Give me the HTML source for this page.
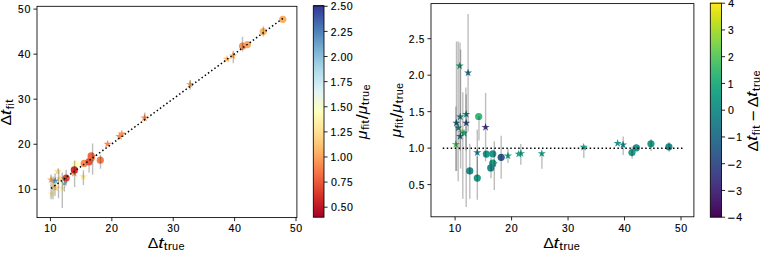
<!DOCTYPE html>
<html><head><meta charset="utf-8"><style>
html,body{margin:0;padding:0;background:#fff;}
body{width:760px;height:255px;overflow:hidden;}
svg{display:block;font-family:"Liberation Sans", sans-serif;}
</style></head><body>
<svg width="760" height="255" viewBox="0 0 760 255">
<rect width="760" height="255" fill="#fff"/>
<defs><linearGradient id="g1" x1="0" y1="1" x2="0" y2="0"><stop offset="0.0000" stop-color="#a50026"/><stop offset="0.0312" stop-color="#b50f26"/><stop offset="0.0625" stop-color="#c41e27"/><stop offset="0.0938" stop-color="#d42d27"/><stop offset="0.1250" stop-color="#de402e"/><stop offset="0.1562" stop-color="#e75337"/><stop offset="0.1875" stop-color="#f16640"/><stop offset="0.2188" stop-color="#f67a49"/><stop offset="0.2500" stop-color="#f98e52"/><stop offset="0.2812" stop-color="#fba35c"/><stop offset="0.3125" stop-color="#fdb567"/><stop offset="0.3438" stop-color="#fdc576"/><stop offset="0.3750" stop-color="#fed485"/><stop offset="0.4062" stop-color="#fee294"/><stop offset="0.4375" stop-color="#feeca2"/><stop offset="0.4688" stop-color="#fff6b1"/><stop offset="0.5000" stop-color="#feffc0"/><stop offset="0.5312" stop-color="#f5fbd2"/><stop offset="0.5625" stop-color="#ebf7e4"/><stop offset="0.5938" stop-color="#e1f3f6"/><stop offset="0.6250" stop-color="#d1ecf4"/><stop offset="0.6562" stop-color="#c1e4ef"/><stop offset="0.6875" stop-color="#b0dcea"/><stop offset="0.7188" stop-color="#9fd0e4"/><stop offset="0.7500" stop-color="#8ec2dc"/><stop offset="0.7812" stop-color="#7db4d5"/><stop offset="0.8125" stop-color="#6da4cc"/><stop offset="0.8438" stop-color="#5e93c3"/><stop offset="0.8750" stop-color="#4f81ba"/><stop offset="0.9062" stop-color="#436fb1"/><stop offset="0.9375" stop-color="#3d5ba7"/><stop offset="0.9688" stop-color="#36479e"/><stop offset="1.0000" stop-color="#313695"/></linearGradient><linearGradient id="g2" x1="0" y1="1" x2="0" y2="0"><stop offset="0.0000" stop-color="#440154"/><stop offset="0.0312" stop-color="#470d60"/><stop offset="0.0625" stop-color="#48186a"/><stop offset="0.0938" stop-color="#482374"/><stop offset="0.1250" stop-color="#472d7b"/><stop offset="0.1562" stop-color="#453781"/><stop offset="0.1875" stop-color="#424086"/><stop offset="0.2188" stop-color="#3e4989"/><stop offset="0.2500" stop-color="#3b528b"/><stop offset="0.2812" stop-color="#375b8d"/><stop offset="0.3125" stop-color="#33638d"/><stop offset="0.3438" stop-color="#2f6b8e"/><stop offset="0.3750" stop-color="#2c728e"/><stop offset="0.4062" stop-color="#297a8e"/><stop offset="0.4375" stop-color="#26828e"/><stop offset="0.4688" stop-color="#23898e"/><stop offset="0.5000" stop-color="#21918c"/><stop offset="0.5312" stop-color="#1f988b"/><stop offset="0.5625" stop-color="#1fa088"/><stop offset="0.5938" stop-color="#22a785"/><stop offset="0.6250" stop-color="#28ae80"/><stop offset="0.6562" stop-color="#32b67a"/><stop offset="0.6875" stop-color="#3fbc73"/><stop offset="0.7188" stop-color="#4ec36b"/><stop offset="0.7500" stop-color="#5ec962"/><stop offset="0.7812" stop-color="#70cf57"/><stop offset="0.8125" stop-color="#84d44b"/><stop offset="0.8438" stop-color="#98d83e"/><stop offset="0.8750" stop-color="#addc30"/><stop offset="0.9062" stop-color="#c2df23"/><stop offset="0.9375" stop-color="#d8e219"/><stop offset="0.9688" stop-color="#ece51b"/><stop offset="1.0000" stop-color="#fde725"/></linearGradient><clipPath id="cl"><rect x="37.0" y="6.3" width="259.9" height="211.3"/></clipPath><clipPath id="cr"><rect x="431.0" y="3.6" width="262.9" height="213.2"/></clipPath></defs>
<g clip-path="url(#cl)">
<path d="M55.18 176.62 L54.22 179.59 L51.09 179.59 L53.62 181.43 L52.65 184.40 L55.18 182.56 L57.71 184.40 L56.74 181.43 L59.27 179.59 L56.15 179.59 Z" fill="#679ec9"/>
<path d="M64.32 178.59 L63.35 181.56 L60.23 181.56 L62.75 183.40 L61.79 186.37 L64.32 184.54 L66.84 186.37 L65.88 183.40 L68.40 181.56 L65.28 181.56 Z" fill="#7db4d5"/>
<path d="M55.73 180.79 L54.77 183.76 L51.64 183.76 L54.17 185.60 L53.21 188.57 L55.73 186.74 L58.26 188.57 L57.30 185.60 L59.82 183.76 L56.70 183.76 Z" fill="#fffdbc"/>
<path d="M62.23 176.17 L61.27 179.14 L58.14 179.14 L60.67 180.98 L59.70 183.95 L62.23 182.11 L64.76 183.95 L63.79 180.98 L66.32 179.14 L63.20 179.14 Z" fill="#fcfec5"/>
<path d="M51.50 189.64 L50.54 192.61 L47.41 192.61 L49.94 194.45 L48.98 197.42 L51.50 195.58 L54.03 197.42 L53.07 194.45 L55.59 192.61 L52.47 192.61 Z" fill="#fff1aa"/>
<path d="M62.23 183.80 L61.27 186.77 L58.14 186.77 L60.67 188.61 L59.70 191.58 L62.23 189.74 L64.76 191.58 L63.79 188.61 L66.32 186.77 L63.20 186.77 Z" fill="#fff1aa"/>
<path d="M53.65 182.45 L52.68 185.43 L49.56 185.43 L52.09 187.26 L51.12 190.23 L53.65 188.40 L56.18 190.23 L55.21 187.26 L57.74 185.43 L54.61 185.43 Z" fill="#fee79b"/>
<path d="M57.76 167.19 L56.79 170.16 L53.67 170.16 L56.19 172.00 L55.23 174.97 L57.76 173.13 L60.28 174.97 L59.32 172.00 L61.85 170.16 L58.72 170.16 Z" fill="#fedc8c"/>
<path d="M59.90 174.15 L58.94 177.12 L55.81 177.12 L58.34 178.96 L57.37 181.93 L59.90 180.09 L62.43 181.93 L61.46 178.96 L63.99 177.12 L60.87 177.12 Z" fill="#feda8a"/>
<path d="M55.73 183.80 L54.77 186.77 L51.64 186.77 L54.17 188.61 L53.21 191.58 L55.73 189.74 L58.26 191.58 L57.30 188.61 L59.82 186.77 L56.70 186.77 Z" fill="#fece7f"/>
<path d="M50.95 175.50 L49.99 178.47 L46.86 178.47 L49.39 180.30 L48.42 183.27 L50.95 181.44 L53.48 183.27 L52.51 180.30 L55.04 178.47 L51.92 178.47 Z" fill="#fdb567"/>
<path d="M83.32 172.40 L82.35 175.37 L79.23 175.37 L81.76 177.20 L80.79 180.18 L83.32 178.34 L85.85 180.18 L84.88 177.20 L87.41 175.37 L84.28 175.37 Z" fill="#fee99d"/>
<circle cx="75.84" cy="164.22" r="3.60" fill="#fffebe"/>
<path d="M74.31 168.98 L73.34 171.96 L70.22 171.96 L72.74 173.79 L71.78 176.76 L74.31 174.93 L76.83 176.76 L75.87 173.79 L78.40 171.96 L75.27 171.96 Z" fill="#f99355"/>
<circle cx="84.18" cy="163.41" r="3.60" fill="#f98e52"/>
<circle cx="91.16" cy="158.24" r="3.60" fill="#f98e52"/>
<circle cx="100.30" cy="160.22" r="3.60" fill="#f67f4b"/>
<path d="M107.65 139.71 L106.69 142.68 L103.56 142.68 L106.09 144.52 L105.13 147.49 L107.65 145.65 L110.18 147.49 L109.22 144.52 L111.74 142.68 L108.62 142.68 Z" fill="#f8864f"/>
<circle cx="91.16" cy="155.82" r="3.60" fill="#f26841"/>
<path d="M92.27 151.92 L91.30 154.89 L88.18 154.89 L90.71 156.73 L89.74 159.70 L92.27 157.87 L94.80 159.70 L93.83 156.73 L96.36 154.89 L93.23 154.89 Z" fill="#f16640"/>
<circle cx="88.96" cy="161.88" r="3.60" fill="#e95538"/>
<circle cx="66.15" cy="178.00" r="3.60" fill="#e34933"/>
<circle cx="74.31" cy="169.92" r="3.60" fill="#d42d27"/>
<path d="M119.42 132.12 L118.46 135.09 L115.33 135.09 L117.86 136.93 L116.90 139.90 L119.42 138.06 L121.95 139.90 L120.99 136.93 L123.51 135.09 L120.39 135.09 Z" fill="#f98e52"/>
<path d="M121.81 129.61 L120.85 132.58 L117.72 132.58 L120.25 134.42 L119.29 137.39 L121.81 135.55 L124.34 137.39 L123.38 134.42 L125.90 132.58 L122.78 132.58 Z" fill="#f99153"/>
<path d="M144.50 113.58 L143.53 116.55 L140.41 116.55 L142.93 118.39 L141.97 121.36 L144.50 119.52 L147.02 121.36 L146.06 118.39 L148.59 116.55 L145.46 116.55 Z" fill="#f98e52"/>
<path d="M190.04 79.99 L189.08 82.96 L185.95 82.96 L188.48 84.80 L187.51 87.77 L190.04 85.94 L192.57 87.77 L191.60 84.80 L194.13 82.96 L191.01 82.96 Z" fill="#fcaa5f"/>
<path d="M227.01 54.80 L226.04 57.78 L222.92 57.78 L225.44 59.61 L224.48 62.58 L227.01 60.75 L229.53 62.58 L228.57 59.61 L231.09 57.78 L227.97 57.78 Z" fill="#fdb96b"/>
<path d="M232.89 51.62 L231.92 54.59 L228.80 54.59 L231.33 56.42 L230.36 59.40 L232.89 57.56 L235.42 59.40 L234.45 56.42 L236.98 54.59 L233.86 54.59 Z" fill="#fdb366"/>
<circle cx="247.36" cy="44.60" r="3.60" fill="#fca85e"/>
<circle cx="242.58" cy="46.22" r="3.60" fill="#f99355"/>
<circle cx="263.23" cy="31.49" r="3.60" fill="#fdb769"/>
<circle cx="282.79" cy="19.28" r="3.60" fill="#fdad60"/>
<line x1="263.40" y1="26.30" x2="263.40" y2="36.50" stroke="#000" stroke-opacity="0.26" stroke-width="1.4"/>
<line x1="242.50" y1="36.70" x2="242.50" y2="51.40" stroke="#000" stroke-opacity="0.26" stroke-width="1.4"/>
<line x1="233.30" y1="50.80" x2="233.30" y2="63.20" stroke="#000" stroke-opacity="0.26" stroke-width="1.4"/>
<line x1="190.20" y1="79.90" x2="190.20" y2="89.70" stroke="#000" stroke-opacity="0.26" stroke-width="1.4"/>
<line x1="144.90" y1="112.50" x2="144.90" y2="120.50" stroke="#000" stroke-opacity="0.26" stroke-width="1.4"/>
<line x1="92.60" y1="143.50" x2="92.60" y2="174.70" stroke="#000" stroke-opacity="0.26" stroke-width="1.4"/>
<line x1="100.50" y1="154.80" x2="100.50" y2="168.80" stroke="#000" stroke-opacity="0.26" stroke-width="1.4"/>
<line x1="89.10" y1="165.30" x2="89.10" y2="172.80" stroke="#000" stroke-opacity="0.26" stroke-width="1.4"/>
<line x1="83.40" y1="170.30" x2="83.40" y2="184.90" stroke="#000" stroke-opacity="0.26" stroke-width="1.4"/>
<line x1="74.60" y1="160.50" x2="74.60" y2="186.90" stroke="#000" stroke-opacity="0.26" stroke-width="1.4"/>
<line x1="66.20" y1="169.80" x2="66.20" y2="184.50" stroke="#000" stroke-opacity="0.26" stroke-width="1.4"/>
<line x1="51.10" y1="174.60" x2="51.10" y2="199.30" stroke="#000" stroke-opacity="0.26" stroke-width="1.4"/>
<line x1="53.00" y1="176.50" x2="53.00" y2="199.30" stroke="#000" stroke-opacity="0.26" stroke-width="1.4"/>
<line x1="55.00" y1="173.50" x2="55.00" y2="195.90" stroke="#000" stroke-opacity="0.26" stroke-width="1.4"/>
<line x1="58.50" y1="168.50" x2="58.50" y2="198.30" stroke="#000" stroke-opacity="0.26" stroke-width="1.4"/>
<line x1="62.30" y1="172.50" x2="62.30" y2="208.00" stroke="#000" stroke-opacity="0.26" stroke-width="1.4"/>
<line x1="64.40" y1="178.50" x2="64.40" y2="191.40" stroke="#000" stroke-opacity="0.26" stroke-width="1.4"/>
<line x1="51.045" y1="188.444" x2="282.855" y2="18.386" stroke="#000" stroke-width="1.5" stroke-dasharray="1.5 2.472"/>
</g>
<g clip-path="url(#cr)">
<path d="M459.70 61.63 L458.73 64.60 L455.61 64.60 L458.13 66.43 L457.17 69.41 L459.70 67.57 L462.22 69.41 L461.26 66.43 L463.78 64.60 L460.66 64.60 Z" fill="#28ae80"/>
<path d="M468.09 68.48 L467.13 71.46 L464.00 71.46 L466.53 73.29 L465.56 76.26 L468.09 74.43 L470.62 76.26 L469.65 73.29 L472.18 71.46 L469.06 71.46 Z" fill="#2b748e"/>
<path d="M460.20 112.47 L459.24 115.44 L456.11 115.44 L458.64 117.28 L457.67 120.25 L460.20 118.42 L462.73 120.25 L461.76 117.28 L464.29 115.44 L461.17 115.44 Z" fill="#21918c"/>
<path d="M466.18 109.99 L465.21 112.96 L462.09 112.96 L464.61 114.80 L463.65 117.77 L466.18 115.94 L468.70 117.77 L467.74 114.80 L470.27 112.96 L467.14 112.96 Z" fill="#21908d"/>
<path d="M456.31 118.67 L455.35 121.64 L452.22 121.64 L454.75 123.48 L453.79 126.45 L456.31 124.62 L458.84 126.45 L457.88 123.48 L460.40 121.64 L457.28 121.64 Z" fill="#306a8e"/>
<path d="M466.18 118.67 L465.21 121.64 L462.09 121.64 L464.61 123.48 L463.65 126.45 L466.18 124.62 L468.70 126.45 L467.74 123.48 L470.27 121.64 L467.14 121.64 Z" fill="#375b8d"/>
<path d="M458.29 123.56 L457.32 126.53 L454.20 126.53 L456.72 128.37 L455.76 131.34 L458.29 129.50 L460.81 131.34 L459.85 128.37 L462.38 126.53 L459.25 126.53 Z" fill="#21908d"/>
<path d="M462.06 128.01 L461.10 130.98 L457.97 130.98 L460.50 132.82 L459.53 135.79 L462.06 133.95 L464.59 135.79 L463.62 132.82 L466.15 130.98 L463.03 130.98 Z" fill="#93d741"/>
<path d="M464.03 128.81 L463.07 131.78 L459.94 131.78 L462.47 133.62 L461.51 136.59 L464.03 134.76 L466.56 136.59 L465.60 133.62 L468.12 131.78 L465.00 131.78 Z" fill="#22a884"/>
<path d="M460.20 132.02 L459.24 134.99 L456.11 134.99 L458.64 136.83 L457.67 139.80 L460.20 137.97 L462.73 139.80 L461.76 136.83 L464.29 134.99 L461.17 134.99 Z" fill="#287c8e"/>
<path d="M455.81 140.12 L454.84 143.09 L451.72 143.09 L454.25 144.93 L453.28 147.90 L455.81 146.06 L458.33 147.90 L457.37 144.93 L459.90 143.09 L456.77 143.09 Z" fill="#5ac864"/>
<path d="M485.56 122.90 L484.59 125.88 L481.47 125.88 L484.00 127.71 L483.03 130.68 L485.56 128.85 L488.09 130.68 L487.12 127.71 L489.65 125.88 L486.53 125.88 Z" fill="#443a83"/>
<circle cx="478.69" cy="116.48" r="3.60" fill="#37b878"/>
<path d="M477.28 148.22 L476.31 151.19 L473.19 151.19 L475.71 153.03 L474.75 156.00 L477.28 154.16 L479.80 156.00 L478.84 153.03 L481.37 151.19 L478.24 151.19 Z" fill="#25848e"/>
<circle cx="486.35" cy="154.12" r="3.60" fill="#1f968b"/>
<circle cx="492.77" cy="153.83" r="3.60" fill="#1f968b"/>
<circle cx="501.17" cy="157.33" r="3.60" fill="#375b8d"/>
<path d="M507.93 151.50 L506.97 154.47 L503.84 154.47 L506.37 156.31 L505.40 159.28 L507.93 157.44 L510.46 159.28 L509.49 156.31 L512.02 154.47 L508.90 154.47 Z" fill="#20a486"/>
<circle cx="492.77" cy="163.17" r="3.60" fill="#21a685"/>
<path d="M493.79 159.23 L492.82 162.21 L489.70 162.21 L492.22 164.04 L491.26 167.01 L493.79 165.18 L496.31 167.01 L495.35 164.04 L497.88 162.21 L494.75 162.21 Z" fill="#1f9f88"/>
<circle cx="490.74" cy="167.91" r="3.60" fill="#23898e"/>
<circle cx="469.78" cy="170.90" r="3.60" fill="#228d8d"/>
<circle cx="477.28" cy="178.12" r="3.60" fill="#1e9b8a"/>
<path d="M518.75 149.68 L517.78 152.65 L514.66 152.65 L517.19 154.48 L516.22 157.46 L518.75 155.62 L521.28 157.46 L520.31 154.48 L522.84 152.65 L519.72 152.65 Z" fill="#1f9e89"/>
<path d="M520.95 149.17 L519.98 152.14 L516.86 152.14 L519.39 153.97 L518.42 156.95 L520.95 155.11 L523.48 156.95 L522.51 153.97 L525.04 152.14 L521.91 152.14 Z" fill="#1fa287"/>
<path d="M541.80 149.31 L540.83 152.28 L537.71 152.28 L540.24 154.12 L539.27 157.09 L541.80 155.26 L544.32 157.09 L543.36 154.12 L545.89 152.28 L542.76 152.28 Z" fill="#1f9f88"/>
<path d="M583.67 142.89 L582.70 145.86 L579.58 145.86 L582.10 147.70 L581.14 150.67 L583.67 148.84 L586.19 150.67 L585.23 147.70 L587.75 145.86 L584.63 145.86 Z" fill="#1fa188"/>
<path d="M617.64 139.03 L616.68 142.00 L613.55 142.00 L616.08 143.83 L615.12 146.81 L617.64 144.97 L620.17 146.81 L619.21 143.83 L621.73 142.00 L618.61 142.00 Z" fill="#20938c"/>
<path d="M623.05 140.49 L622.09 143.46 L618.96 143.46 L621.49 145.29 L620.53 148.26 L623.05 146.43 L625.58 148.26 L624.62 145.29 L627.14 143.46 L624.02 143.46 Z" fill="#228c8d"/>
<circle cx="636.35" cy="147.78" r="3.60" fill="#21918c"/>
<circle cx="631.96" cy="152.59" r="3.60" fill="#1f9e89"/>
<circle cx="650.95" cy="143.84" r="3.60" fill="#1e9b8a"/>
<circle cx="668.92" cy="146.83" r="3.60" fill="#228d8d"/>
<line x1="468.10" y1="13.90" x2="468.10" y2="131.50" stroke="#000" stroke-opacity="0.26" stroke-width="1.4"/>
<line x1="456.50" y1="41.50" x2="456.50" y2="170.90" stroke="#000" stroke-opacity="0.26" stroke-width="1.4"/>
<line x1="458.20" y1="41.50" x2="458.20" y2="181.20" stroke="#000" stroke-opacity="0.26" stroke-width="1.4"/>
<line x1="460.00" y1="42.50" x2="460.00" y2="150.50" stroke="#000" stroke-opacity="0.26" stroke-width="1.4"/>
<line x1="460.60" y1="49.40" x2="460.60" y2="168.40" stroke="#000" stroke-opacity="0.26" stroke-width="1.4"/>
<line x1="462.80" y1="92.30" x2="462.80" y2="198.80" stroke="#000" stroke-opacity="0.26" stroke-width="1.4"/>
<line x1="465.90" y1="87.40" x2="465.90" y2="150.50" stroke="#000" stroke-opacity="0.26" stroke-width="1.4"/>
<line x1="466.20" y1="94.30" x2="466.20" y2="207.10" stroke="#000" stroke-opacity="0.26" stroke-width="1.4"/>
<line x1="455.80" y1="106.40" x2="455.80" y2="170.90" stroke="#000" stroke-opacity="0.26" stroke-width="1.4"/>
<line x1="485.60" y1="93.10" x2="485.60" y2="161.20" stroke="#000" stroke-opacity="0.26" stroke-width="1.4"/>
<line x1="479.00" y1="116.50" x2="479.00" y2="140.50" stroke="#000" stroke-opacity="0.26" stroke-width="1.4"/>
<line x1="477.30" y1="129.40" x2="477.30" y2="175.60" stroke="#000" stroke-opacity="0.26" stroke-width="1.4"/>
<line x1="477.30" y1="156.50" x2="477.30" y2="199.70" stroke="#000" stroke-opacity="0.26" stroke-width="1.4"/>
<line x1="469.80" y1="143.70" x2="469.80" y2="198.80" stroke="#000" stroke-opacity="0.26" stroke-width="1.4"/>
<line x1="494.30" y1="141.20" x2="494.30" y2="189.90" stroke="#000" stroke-opacity="0.26" stroke-width="1.4"/>
<line x1="491.00" y1="157.50" x2="491.00" y2="178.30" stroke="#000" stroke-opacity="0.26" stroke-width="1.4"/>
<line x1="501.20" y1="135.80" x2="501.20" y2="178.80" stroke="#000" stroke-opacity="0.26" stroke-width="1.4"/>
<line x1="508.00" y1="148.50" x2="508.00" y2="163.00" stroke="#000" stroke-opacity="0.26" stroke-width="1.4"/>
<line x1="520.80" y1="143.90" x2="520.80" y2="164.70" stroke="#000" stroke-opacity="0.26" stroke-width="1.4"/>
<line x1="541.90" y1="153.60" x2="541.90" y2="168.70" stroke="#000" stroke-opacity="0.26" stroke-width="1.4"/>
<line x1="583.80" y1="147.20" x2="583.80" y2="157.90" stroke="#000" stroke-opacity="0.26" stroke-width="1.4"/>
<line x1="623.20" y1="136.40" x2="623.20" y2="154.90" stroke="#000" stroke-opacity="0.26" stroke-width="1.4"/>
<line x1="632.10" y1="146.40" x2="632.10" y2="158.80" stroke="#000" stroke-opacity="0.26" stroke-width="1.4"/>
<line x1="651.10" y1="138.90" x2="651.10" y2="150.90" stroke="#000" stroke-opacity="0.26" stroke-width="1.4"/>
<line x1="669.10" y1="141.90" x2="669.10" y2="151.70" stroke="#000" stroke-opacity="0.26" stroke-width="1.4"/>
<line x1="442.750" y1="148.2" x2="682.450" y2="148.2" stroke="#000" stroke-width="1.5" stroke-dasharray="1.5 2.470"/>
</g>
<rect x="37.00" y="6.30" width="259.90" height="211.30" stroke="#000" stroke-width="0.85" fill="none"/>
<rect x="431.00" y="3.60" width="262.90" height="213.20" stroke="#000" stroke-width="0.85" fill="none"/>
<line x1="50.45" y1="217.60" x2="50.45" y2="221.20" stroke="#000" stroke-width="0.85"/>
<text transform="matrix(1.0169 0 0 1.0702 44.140 231.500)" font-size="10" stroke="#000" stroke-width="0.144">1</text><text transform="matrix(1.0647 0 0 1.0790 50.480 231.538)" font-size="10" stroke="#000" stroke-width="0.140">0</text>
<line x1="33.40" y1="189.30" x2="37.00" y2="189.30" stroke="#000" stroke-width="0.85"/>
<text transform="matrix(1.0169 0 0 1.0702 18.054 193.400)" font-size="10" stroke="#000" stroke-width="0.144">1</text><text transform="matrix(1.0647 0 0 1.0790 24.395 193.438)" font-size="10" stroke="#000" stroke-width="0.140">0</text>
<line x1="111.84" y1="217.60" x2="111.84" y2="221.20" stroke="#000" stroke-width="0.85"/>
<text transform="matrix(1.0262 0 0 1.0736 105.603 231.500)" font-size="10" stroke="#000" stroke-width="0.143">2</text><text transform="matrix(1.0647 0 0 1.0790 112.055 231.538)" font-size="10" stroke="#000" stroke-width="0.140">0</text>
<line x1="33.40" y1="144.25" x2="37.00" y2="144.25" stroke="#000" stroke-width="0.85"/>
<text transform="matrix(1.0262 0 0 1.0736 17.942 148.350)" font-size="10" stroke="#000" stroke-width="0.143">2</text><text transform="matrix(1.0647 0 0 1.0790 24.395 148.388)" font-size="10" stroke="#000" stroke-width="0.140">0</text>
<line x1="173.23" y1="217.60" x2="173.23" y2="221.20" stroke="#000" stroke-width="0.85"/>
<text transform="matrix(1.0225 0 0 1.0790 167.135 231.538)" font-size="10" stroke="#000" stroke-width="0.143">3</text><text transform="matrix(1.0647 0 0 1.0790 173.431 231.538)" font-size="10" stroke="#000" stroke-width="0.140">0</text>
<line x1="33.40" y1="99.20" x2="37.00" y2="99.20" stroke="#000" stroke-width="0.85"/>
<text transform="matrix(1.0225 0 0 1.0790 18.099 103.338)" font-size="10" stroke="#000" stroke-width="0.143">3</text><text transform="matrix(1.0647 0 0 1.0790 24.395 103.338)" font-size="10" stroke="#000" stroke-width="0.140">0</text>
<line x1="234.62" y1="217.60" x2="234.62" y2="221.20" stroke="#000" stroke-width="0.85"/>
<text transform="matrix(1.0648 0 0 1.0702 228.532 231.500)" font-size="10" stroke="#000" stroke-width="0.141">4</text><text transform="matrix(1.0647 0 0 1.0790 234.959 231.538)" font-size="10" stroke="#000" stroke-width="0.140">0</text>
<line x1="33.40" y1="54.15" x2="37.00" y2="54.15" stroke="#000" stroke-width="0.85"/>
<text transform="matrix(1.0648 0 0 1.0702 17.968 58.250)" font-size="10" stroke="#000" stroke-width="0.141">4</text><text transform="matrix(1.0647 0 0 1.0790 24.395 58.288)" font-size="10" stroke="#000" stroke-width="0.140">0</text>
<line x1="296.01" y1="217.60" x2="296.01" y2="221.20" stroke="#000" stroke-width="0.85"/>
<text transform="matrix(1.0048 0 0 1.0757 289.907 231.538)" font-size="10" stroke="#000" stroke-width="0.144">5</text><text transform="matrix(1.0647 0 0 1.0790 296.206 231.538)" font-size="10" stroke="#000" stroke-width="0.140">0</text>
<line x1="33.40" y1="9.10" x2="37.00" y2="9.10" stroke="#000" stroke-width="0.85"/>
<text transform="matrix(1.0048 0 0 1.0757 18.096 13.238)" font-size="10" stroke="#000" stroke-width="0.144">5</text><text transform="matrix(1.0647 0 0 1.0790 24.395 13.238)" font-size="10" stroke="#000" stroke-width="0.140">0</text>
<line x1="455.10" y1="216.80" x2="455.10" y2="220.40" stroke="#000" stroke-width="0.85"/>
<text transform="matrix(1.0169 0 0 1.0702 448.790 231.500)" font-size="10" stroke="#000" stroke-width="0.144">1</text><text transform="matrix(1.0647 0 0 1.0790 455.130 231.538)" font-size="10" stroke="#000" stroke-width="0.140">0</text>
<line x1="511.58" y1="216.80" x2="511.58" y2="220.40" stroke="#000" stroke-width="0.85"/>
<text transform="matrix(1.0262 0 0 1.0736 505.338 231.500)" font-size="10" stroke="#000" stroke-width="0.143">2</text><text transform="matrix(1.0647 0 0 1.0790 511.790 231.538)" font-size="10" stroke="#000" stroke-width="0.140">0</text>
<line x1="568.05" y1="216.80" x2="568.05" y2="220.40" stroke="#000" stroke-width="0.85"/>
<text transform="matrix(1.0225 0 0 1.0790 561.955 231.538)" font-size="10" stroke="#000" stroke-width="0.143">3</text><text transform="matrix(1.0647 0 0 1.0790 568.251 231.538)" font-size="10" stroke="#000" stroke-width="0.140">0</text>
<line x1="624.53" y1="216.80" x2="624.53" y2="220.40" stroke="#000" stroke-width="0.85"/>
<text transform="matrix(1.0648 0 0 1.0702 618.437 231.500)" font-size="10" stroke="#000" stroke-width="0.141">4</text><text transform="matrix(1.0647 0 0 1.0790 624.864 231.538)" font-size="10" stroke="#000" stroke-width="0.140">0</text>
<line x1="681.00" y1="216.80" x2="681.00" y2="220.40" stroke="#000" stroke-width="0.85"/>
<text transform="matrix(1.0048 0 0 1.0757 674.897 231.538)" font-size="10" stroke="#000" stroke-width="0.144">5</text><text transform="matrix(1.0647 0 0 1.0790 681.196 231.538)" font-size="10" stroke="#000" stroke-width="0.140">0</text>
<line x1="427.40" y1="184.60" x2="431.00" y2="184.60" stroke="#000" stroke-width="0.85"/>
<text transform="matrix(1.0647 0 0 1.0790 408.870 188.738)" font-size="10" stroke="#000" stroke-width="0.140">0</text><text transform="matrix(1.0929 0 0 1.1714 415.128 188.700)" font-size="10" stroke="#000" stroke-width="0.132">.</text><text transform="matrix(1.0048 0 0 1.0757 418.634 188.738)" font-size="10" stroke="#000" stroke-width="0.144">5</text>
<line x1="427.40" y1="148.12" x2="431.00" y2="148.12" stroke="#000" stroke-width="0.85"/>
<text transform="matrix(1.0169 0 0 1.0702 408.743 152.225)" font-size="10" stroke="#000" stroke-width="0.144">1</text><text transform="matrix(1.0929 0 0 1.1714 414.916 152.225)" font-size="10" stroke="#000" stroke-width="0.132">.</text><text transform="matrix(1.0647 0 0 1.0790 418.295 152.263)" font-size="10" stroke="#000" stroke-width="0.140">0</text>
<line x1="427.40" y1="111.65" x2="431.00" y2="111.65" stroke="#000" stroke-width="0.85"/>
<text transform="matrix(1.0169 0 0 1.0702 408.955 115.750)" font-size="10" stroke="#000" stroke-width="0.144">1</text><text transform="matrix(1.0929 0 0 1.1714 415.128 115.750)" font-size="10" stroke="#000" stroke-width="0.132">.</text><text transform="matrix(1.0048 0 0 1.0757 418.634 115.788)" font-size="10" stroke="#000" stroke-width="0.144">5</text>
<line x1="427.40" y1="75.18" x2="431.00" y2="75.18" stroke="#000" stroke-width="0.85"/>
<text transform="matrix(1.0262 0 0 1.0736 408.632 79.275)" font-size="10" stroke="#000" stroke-width="0.143">2</text><text transform="matrix(1.0929 0 0 1.1714 414.916 79.275)" font-size="10" stroke="#000" stroke-width="0.132">.</text><text transform="matrix(1.0647 0 0 1.0790 418.295 79.313)" font-size="10" stroke="#000" stroke-width="0.140">0</text>
<line x1="427.40" y1="38.70" x2="431.00" y2="38.70" stroke="#000" stroke-width="0.85"/>
<text transform="matrix(1.0262 0 0 1.0736 408.844 42.800)" font-size="10" stroke="#000" stroke-width="0.143">2</text><text transform="matrix(1.0929 0 0 1.1714 415.128 42.800)" font-size="10" stroke="#000" stroke-width="0.132">.</text><text transform="matrix(1.0048 0 0 1.0757 418.634 42.838)" font-size="10" stroke="#000" stroke-width="0.144">5</text>
<rect x="313.30" y="5.00" width="10.70" height="212.20" fill="url(#g1)"/>
<rect x="313.30" y="5.90" width="10.70" height="211.30" stroke="#000" stroke-width="0.85" fill="none"/>
<line x1="324.00" y1="207.20" x2="327.60" y2="207.20" stroke="#000" stroke-width="0.85"/>
<text transform="matrix(1.0647 0 0 1.0790 330.884 211.338)" font-size="10" stroke="#000" stroke-width="0.140">0</text><text transform="matrix(1.0929 0 0 1.1714 337.142 211.300)" font-size="10" stroke="#000" stroke-width="0.132">.</text><text transform="matrix(1.0048 0 0 1.0757 340.648 211.338)" font-size="10" stroke="#000" stroke-width="0.144">5</text><text transform="matrix(1.0647 0 0 1.0790 346.946 211.338)" font-size="10" stroke="#000" stroke-width="0.140">0</text>
<line x1="324.00" y1="182.09" x2="327.60" y2="182.09" stroke="#000" stroke-width="0.85"/>
<text transform="matrix(1.0647 0 0 1.0790 330.884 186.225)" font-size="10" stroke="#000" stroke-width="0.140">0</text><text transform="matrix(1.0929 0 0 1.1714 337.142 186.188)" font-size="10" stroke="#000" stroke-width="0.132">.</text><text transform="matrix(1.0415 0 0 1.0702 340.565 186.188)" font-size="10" stroke="#000" stroke-width="0.142">7</text><text transform="matrix(1.0048 0 0 1.0757 347.073 186.225)" font-size="10" stroke="#000" stroke-width="0.144">5</text>
<line x1="324.00" y1="156.98" x2="327.60" y2="156.98" stroke="#000" stroke-width="0.85"/>
<text transform="matrix(1.0169 0 0 1.0702 330.525 161.075)" font-size="10" stroke="#000" stroke-width="0.144">1</text><text transform="matrix(1.0929 0 0 1.1714 336.698 161.075)" font-size="10" stroke="#000" stroke-width="0.132">.</text><text transform="matrix(1.0647 0 0 1.0790 340.077 161.113)" font-size="10" stroke="#000" stroke-width="0.140">0</text><text transform="matrix(1.0647 0 0 1.0790 346.503 161.113)" font-size="10" stroke="#000" stroke-width="0.140">0</text>
<line x1="324.00" y1="131.86" x2="327.60" y2="131.86" stroke="#000" stroke-width="0.85"/>
<text transform="matrix(1.0169 0 0 1.0702 330.525 135.963)" font-size="10" stroke="#000" stroke-width="0.144">1</text><text transform="matrix(1.0929 0 0 1.1714 336.698 135.963)" font-size="10" stroke="#000" stroke-width="0.132">.</text><text transform="matrix(1.0262 0 0 1.0736 340.050 135.963)" font-size="10" stroke="#000" stroke-width="0.143">2</text><text transform="matrix(1.0048 0 0 1.0757 346.630 136.000)" font-size="10" stroke="#000" stroke-width="0.144">5</text>
<line x1="324.00" y1="106.75" x2="327.60" y2="106.75" stroke="#000" stroke-width="0.85"/>
<text transform="matrix(1.0169 0 0 1.0702 330.525 110.850)" font-size="10" stroke="#000" stroke-width="0.144">1</text><text transform="matrix(1.0929 0 0 1.1714 336.698 110.850)" font-size="10" stroke="#000" stroke-width="0.132">.</text><text transform="matrix(1.0048 0 0 1.0757 340.204 110.888)" font-size="10" stroke="#000" stroke-width="0.144">5</text><text transform="matrix(1.0647 0 0 1.0790 346.503 110.888)" font-size="10" stroke="#000" stroke-width="0.140">0</text>
<line x1="324.00" y1="81.64" x2="327.60" y2="81.64" stroke="#000" stroke-width="0.85"/>
<text transform="matrix(1.0169 0 0 1.0702 330.525 85.737)" font-size="10" stroke="#000" stroke-width="0.144">1</text><text transform="matrix(1.0929 0 0 1.1714 336.698 85.737)" font-size="10" stroke="#000" stroke-width="0.132">.</text><text transform="matrix(1.0415 0 0 1.0702 340.121 85.737)" font-size="10" stroke="#000" stroke-width="0.142">7</text><text transform="matrix(1.0048 0 0 1.0757 346.630 85.775)" font-size="10" stroke="#000" stroke-width="0.144">5</text>
<line x1="324.00" y1="56.52" x2="327.60" y2="56.52" stroke="#000" stroke-width="0.85"/>
<text transform="matrix(1.0262 0 0 1.0736 330.784 60.625)" font-size="10" stroke="#000" stroke-width="0.143">2</text><text transform="matrix(1.0929 0 0 1.1714 337.068 60.625)" font-size="10" stroke="#000" stroke-width="0.132">.</text><text transform="matrix(1.0647 0 0 1.0790 340.447 60.663)" font-size="10" stroke="#000" stroke-width="0.140">0</text><text transform="matrix(1.0647 0 0 1.0790 346.872 60.663)" font-size="10" stroke="#000" stroke-width="0.140">0</text>
<line x1="324.00" y1="31.41" x2="327.60" y2="31.41" stroke="#000" stroke-width="0.85"/>
<text transform="matrix(1.0262 0 0 1.0736 330.784 35.513)" font-size="10" stroke="#000" stroke-width="0.143">2</text><text transform="matrix(1.0929 0 0 1.1714 337.068 35.513)" font-size="10" stroke="#000" stroke-width="0.132">.</text><text transform="matrix(1.0262 0 0 1.0736 340.420 35.513)" font-size="10" stroke="#000" stroke-width="0.143">2</text><text transform="matrix(1.0048 0 0 1.0757 346.999 35.550)" font-size="10" stroke="#000" stroke-width="0.144">5</text>
<line x1="324.00" y1="6.30" x2="327.60" y2="6.30" stroke="#000" stroke-width="0.85"/>
<text transform="matrix(1.0262 0 0 1.0736 330.784 10.400)" font-size="10" stroke="#000" stroke-width="0.143">2</text><text transform="matrix(1.0929 0 0 1.1714 337.068 10.400)" font-size="10" stroke="#000" stroke-width="0.132">.</text><text transform="matrix(1.0048 0 0 1.0757 340.574 10.438)" font-size="10" stroke="#000" stroke-width="0.144">5</text><text transform="matrix(1.0647 0 0 1.0790 346.872 10.438)" font-size="10" stroke="#000" stroke-width="0.140">0</text>
<rect x="710.30" y="2.30" width="11.20" height="214.90" fill="url(#g2)"/>
<rect x="710.30" y="3.20" width="11.20" height="214.00" stroke="#000" stroke-width="0.85" fill="none"/>
<line x1="721.50" y1="217.20" x2="725.10" y2="217.20" stroke="#000" stroke-width="0.85"/>
<text transform="matrix(1.3013 0 0 1.1760 727.858 222.044)" font-size="10" stroke="#000" stroke-width="0.121">−</text><text transform="matrix(1.0648 0 0 1.0702 736.141 221.300)" font-size="10" stroke="#000" stroke-width="0.141">4</text>
<line x1="721.50" y1="190.45" x2="725.10" y2="190.45" stroke="#000" stroke-width="0.85"/>
<text transform="matrix(1.3013 0 0 1.1760 727.858 195.294)" font-size="10" stroke="#000" stroke-width="0.121">−</text><text transform="matrix(1.0225 0 0 1.0790 736.272 194.588)" font-size="10" stroke="#000" stroke-width="0.143">3</text>
<line x1="721.50" y1="163.70" x2="725.10" y2="163.70" stroke="#000" stroke-width="0.85"/>
<text transform="matrix(1.3013 0 0 1.1760 727.858 168.544)" font-size="10" stroke="#000" stroke-width="0.121">−</text><text transform="matrix(1.0262 0 0 1.0736 736.116 167.800)" font-size="10" stroke="#000" stroke-width="0.143">2</text>
<line x1="721.50" y1="136.95" x2="725.10" y2="136.95" stroke="#000" stroke-width="0.85"/>
<text transform="matrix(1.3013 0 0 1.1760 727.858 141.794)" font-size="10" stroke="#000" stroke-width="0.121">−</text><text transform="matrix(1.0169 0 0 1.0702 736.228 141.050)" font-size="10" stroke="#000" stroke-width="0.144">1</text>
<line x1="721.50" y1="110.20" x2="725.10" y2="110.20" stroke="#000" stroke-width="0.85"/>
<text transform="matrix(1.0647 0 0 1.0790 728.084 114.338)" font-size="10" stroke="#000" stroke-width="0.140">0</text>
<line x1="721.50" y1="83.45" x2="725.10" y2="83.45" stroke="#000" stroke-width="0.85"/>
<text transform="matrix(1.0169 0 0 1.0702 727.725 87.550)" font-size="10" stroke="#000" stroke-width="0.144">1</text>
<line x1="721.50" y1="56.70" x2="725.10" y2="56.70" stroke="#000" stroke-width="0.85"/>
<text transform="matrix(1.0262 0 0 1.0736 727.984 60.800)" font-size="10" stroke="#000" stroke-width="0.143">2</text>
<line x1="721.50" y1="29.95" x2="725.10" y2="29.95" stroke="#000" stroke-width="0.85"/>
<text transform="matrix(1.0225 0 0 1.0790 728.111 34.088)" font-size="10" stroke="#000" stroke-width="0.143">3</text>
<line x1="721.50" y1="3.20" x2="725.10" y2="3.20" stroke="#000" stroke-width="0.85"/>
<text transform="matrix(1.0648 0 0 1.0702 728.256 7.300)" font-size="10" stroke="#000" stroke-width="0.141">4</text>
<text transform="matrix(1.5933 0 0 1.5364 147.825 247.800)" font-size="10">Δ</text><text transform="matrix(1.9484 0 0 1.5514 158.149 247.648)" font-size="10" font-style="italic">t</text><text transform="matrix(1.3566 0 0 1.0892 163.858 250.176)" font-size="10">t</text><text transform="matrix(1.3005 0 0 1.0564 167.829 250.261)" font-size="10">r</text><text transform="matrix(1.0943 0 0 1.0832 172.096 250.299)" font-size="10">u</text><text transform="matrix(1.0963 0 0 1.0639 178.471 250.301)" font-size="10">e</text>
<text transform="matrix(1.5933 0 0 1.5364 543.225 247.800)" font-size="10">Δ</text><text transform="matrix(1.9484 0 0 1.5514 553.549 247.648)" font-size="10" font-style="italic">t</text><text transform="matrix(1.3566 0 0 1.0892 559.258 250.176)" font-size="10">t</text><text transform="matrix(1.3005 0 0 1.0564 563.229 250.261)" font-size="10">r</text><text transform="matrix(1.0943 0 0 1.0832 567.496 250.299)" font-size="10">u</text><text transform="matrix(1.0963 0 0 1.0639 573.871 250.301)" font-size="10">e</text>
<g transform="translate(11.10,112.25) rotate(-90)"><text transform="matrix(1.5933 0 0 1.5364 -13.285 0.000)" font-size="10">Δ</text><text transform="matrix(1.9484 0 0 1.5514 -2.962 -0.152)" font-size="10" font-style="italic">t</text><text transform="matrix(1.3328 0 0 1.0657 2.725 2.461)" font-size="10">f</text><text transform="matrix(1.0376 0 0 1.0642 6.516 2.461)" font-size="10">i</text><text transform="matrix(1.3566 0 0 1.0892 9.141 2.376)" font-size="10">t</text></g>
<g transform="translate(400.50,110.60) rotate(-90)"><text transform="matrix(1.5871 0 0 1.5198 -26.967 0.100)" font-size="10" font-style="italic">μ</text><text transform="matrix(1.3328 0 0 1.0657 -17.839 2.461)" font-size="10">f</text><text transform="matrix(1.0376 0 0 1.0642 -14.048 2.461)" font-size="10">i</text><text transform="matrix(1.3566 0 0 1.0892 -11.423 2.376)" font-size="10">t</text><text transform="matrix(1.7583 0 0 1.6226 -7.101 1.187)" font-size="10">/</text><text transform="matrix(1.5871 0 0 1.5198 -2.073 0.100)" font-size="10" font-style="italic">μ</text><text transform="matrix(1.3566 0 0 1.0892 7.077 2.376)" font-size="10">t</text><text transform="matrix(1.3005 0 0 1.0564 11.048 2.461)" font-size="10">r</text><text transform="matrix(1.0943 0 0 1.0832 15.314 2.499)" font-size="10">u</text><text transform="matrix(1.0963 0 0 1.0639 21.690 2.501)" font-size="10">e</text></g>
<g transform="translate(367.00,112.25) rotate(-90)"><text transform="matrix(1.5871 0 0 1.5198 -26.967 0.100)" font-size="10" font-style="italic">μ</text><text transform="matrix(1.3328 0 0 1.0657 -17.839 2.461)" font-size="10">f</text><text transform="matrix(1.0376 0 0 1.0642 -14.048 2.461)" font-size="10">i</text><text transform="matrix(1.3566 0 0 1.0892 -11.423 2.376)" font-size="10">t</text><text transform="matrix(1.7583 0 0 1.6226 -7.101 1.187)" font-size="10">/</text><text transform="matrix(1.5871 0 0 1.5198 -2.073 0.100)" font-size="10" font-style="italic">μ</text><text transform="matrix(1.3566 0 0 1.0892 7.077 2.376)" font-size="10">t</text><text transform="matrix(1.3005 0 0 1.0564 11.048 2.461)" font-size="10">r</text><text transform="matrix(1.0943 0 0 1.0832 15.314 2.499)" font-size="10">u</text><text transform="matrix(1.0963 0 0 1.0639 21.690 2.501)" font-size="10">e</text></g>
<g transform="translate(757.60,110.95) rotate(-90)"><text transform="matrix(1.5933 0 0 1.5364 -40.459 0.000)" font-size="10">Δ</text><text transform="matrix(1.9484 0 0 1.5514 -30.135 -0.152)" font-size="10" font-style="italic">t</text><text transform="matrix(1.3328 0 0 1.0657 -24.449 2.461)" font-size="10">f</text><text transform="matrix(1.0376 0 0 1.0642 -20.657 2.461)" font-size="10">i</text><text transform="matrix(1.3566 0 0 1.0892 -18.032 2.376)" font-size="10">t</text><text transform="matrix(1.8682 0 0 1.6884 -10.270 1.069)" font-size="10">−</text><text transform="matrix(1.5933 0 0 1.5364 3.728 0.000)" font-size="10">Δ</text><text transform="matrix(1.9484 0 0 1.5514 14.051 -0.152)" font-size="10" font-style="italic">t</text><text transform="matrix(1.3566 0 0 1.0892 19.761 2.376)" font-size="10">t</text><text transform="matrix(1.3005 0 0 1.0564 23.732 2.461)" font-size="10">r</text><text transform="matrix(1.0943 0 0 1.0832 27.998 2.499)" font-size="10">u</text><text transform="matrix(1.0963 0 0 1.0639 34.374 2.501)" font-size="10">e</text></g>
</svg>
</body></html>
